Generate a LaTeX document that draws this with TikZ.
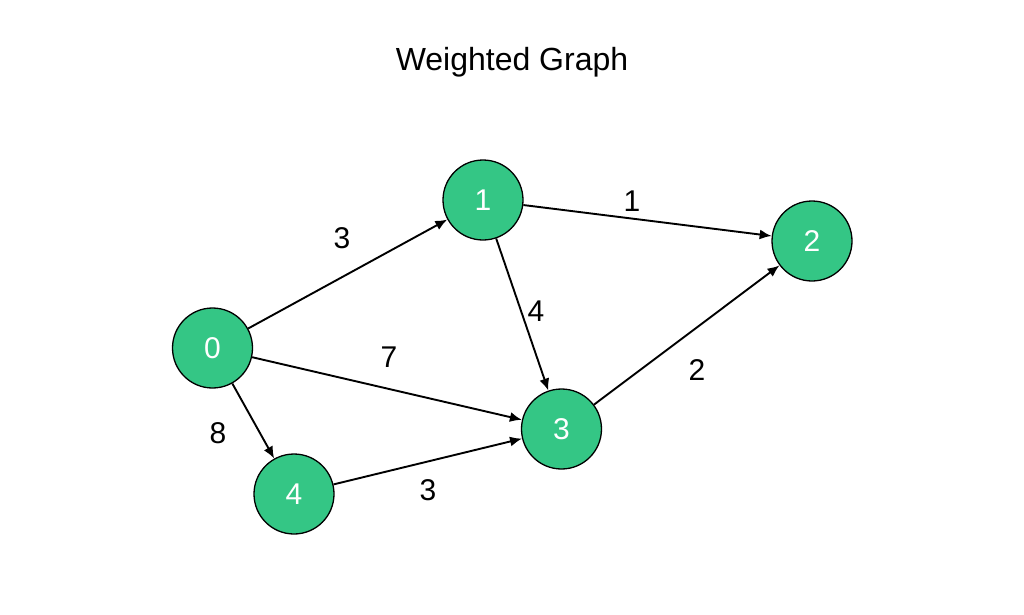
\documentclass[tikz,border=0pt]{standalone}
\usepackage{fontspec}
\setmainfont{Liberation Sans}
\usetikzlibrary{arrows.meta}
\definecolor{nodegreen}{HTML}{34C685}
\begin{document}
\begin{tikzpicture}[x=1pt,y=-1pt,
  vert/.style={circle,draw=black,line width=1.3pt,fill=nodegreen,minimum size=80pt,inner sep=0pt,text=white,font=\fontsize{30}{30}\selectfont},
  edge/.style={line width=1.9pt,-{Latex[length=12pt,width=10pt]}},
  wlab/.style={font=\fontsize{30}{30}\selectfont,text=black}]
\useasboundingbox[fill=white] (0,0) rectangle (1024,614);
\node[font=\fontsize{32}{32}\selectfont] (title) at (512,62) {Weighted Graph};
\node[vert] (n0) at (212.5,348) {0};
\node[vert] (n1) at (483,200) {1};
\node[vert] (n2) at (812,241) {2};
\node[vert] (n3) at (561.5,429) {3};
\node[vert] (n4) at (294,494) {4};
\draw[edge] (n0) -- (n1);
\draw[edge] (n1) -- (n2);
\draw[edge] (n1) -- (n3);
\draw[edge] (n0) -- (n3);
\draw[edge] (n3) -- (n2);
\draw[edge] (n0) -- (n4);
\draw[edge] (n4) -- (n3);
\node[wlab] (w01) at (342,238) {3};
\node[wlab] (w12) at (632,201) {1};
\node[wlab] (w13) at (536,311) {4};
\node[wlab] (w03) at (389,357) {7};
\node[wlab] (w32) at (697,370) {2};
\node[wlab] (w04) at (218,433) {8};
\node[wlab] (w43) at (428,490) {3};
\end{tikzpicture}
\end{document}
